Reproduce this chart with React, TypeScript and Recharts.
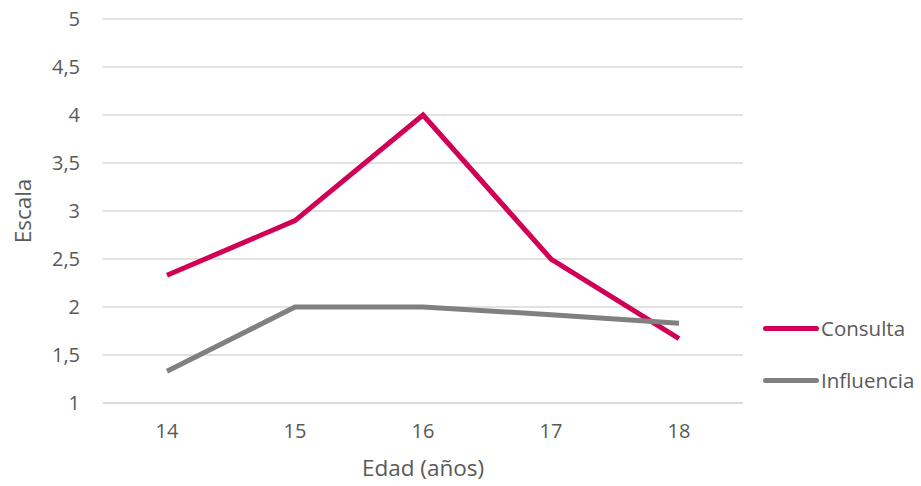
import { LineChart, Line, XAxis, YAxis, CartesianGrid } from "recharts";

const ages = ["14", "15", "16", "17", "18"];
const consulta = [2.33, 2.9, 4, 2.5, 1.67];
const influencia = [1.33, 2, 2, 1.92, 1.83];
const yTicks = [1, 1.5, 2, 2.5, 3, 3.5, 4, 4.5, 5];

const data = ages.map((edad, i) => ({
  edad,
  Consulta: consulta[i],
  Influencia: influencia[i],
}));

const FONT = "'Open Sans', sans-serif";
const TEXT = "#595959";

const series = [
  { name: "Consulta", color: "#D10056" },
  { name: "Influencia", color: "#808080" },
];

const fmt = (v: number) => String(v).replace(".", ",");

function LegendBox() {
  return (
    <div
      style={{
        position: "absolute",
        left: 763,
        top: 302,
        fontSize: 20.5,
        color: TEXT,
      }}
    >
      {series.map((it) => (
        <div
          key={it.name}
          style={{ display: "flex", alignItems: "center", height: 52 }}
        >
          <div
            style={{
              width: 56,
              height: 5,
              borderRadius: 3,
              background: it.color,
              marginRight: 2,
            }}
          />
          <span>{it.name}</span>
        </div>
      ))}
    </div>
  );
}

export default function App() {
  return (
    <div
      style={{
        position: "absolute",
        left: 0,
        top: 0,
        width: 921,
        height: 486,
        background: "#fff",
        fontFamily: FONT,
      }}
    >
      <LineChart
        width={921}
        height={486}
        data={data}
        margin={{ top: 19, right: 178, bottom: 53, left: 0 }}
      >
        <CartesianGrid vertical={false} stroke="#D9D9D9" strokeWidth={1.5} />
        <XAxis
          dataKey="edad"
          height={30}
          padding={{ left: 64, right: 64 }}
          axisLine={{ stroke: "#D9D9D9", strokeWidth: 1.5 }}
          tickLine={false}
          tickMargin={15}
          tick={{ fill: TEXT, fontSize: 20, fontFamily: FONT }}
        />
        <YAxis
          width={103}
          domain={[1, 5]}
          ticks={yTicks}
          interval={0}
          axisLine={false}
          tickLine={false}
          tickMargin={17}
          tickFormatter={fmt}
          tick={{ fill: TEXT, fontSize: 20, fontFamily: FONT }}
        />
        <Line
          dataKey="Consulta"
          stroke={series[0].color}
          strokeWidth={5}
          dot={false}
          isAnimationActive={false}
        />
        <Line
          dataKey="Influencia"
          stroke={series[1].color}
          strokeWidth={5}
          dot={false}
          isAnimationActive={false}
        />
      </LineChart>
      <LegendBox />
      <div
        style={{
          position: "absolute",
          left: 22,
          top: 211,
          transform: "translate(-50%, -50%) rotate(-90deg)",
          fontSize: 22.5,
          color: TEXT,
          whiteSpace: "nowrap",
        }}
      >
        Escala
      </div>
      <div
        style={{
          position: "absolute",
          left: 423,
          top: 467,
          transform: "translate(-50%, -50%)",
          fontSize: 22.5,
          color: TEXT,
          whiteSpace: "nowrap",
        }}
      >
        Edad (años)
      </div>
    </div>
  );
}
